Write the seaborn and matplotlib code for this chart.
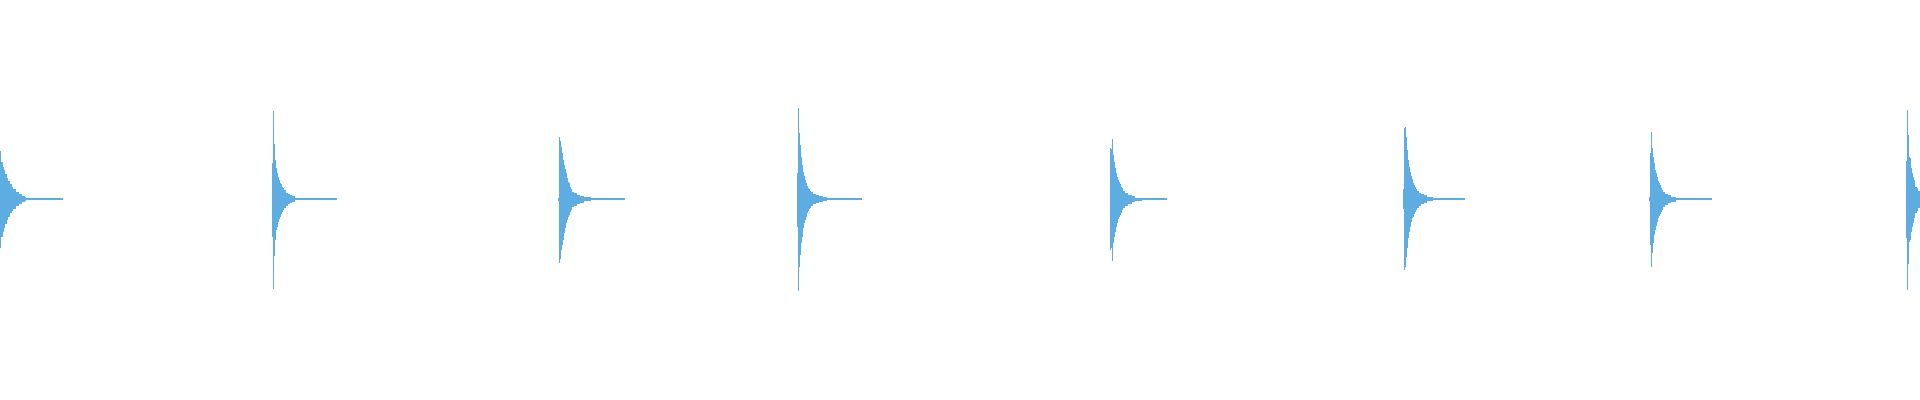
import matplotlib
matplotlib.use("Agg")
import matplotlib.pyplot as plt
import seaborn as sns
import pandas as pd

# -----------------------------
# Waveform data (peak envelope per pixel column, normalised amplitude)
# -----------------------------
burst_starts = [0, 272, 558, 797, 1110, 1403, 1649, 1906]
tail_ends = [63, 337, 625, 862, 1167, 1465, 1712, 1920]

b1_top = [0.48, 0.37, 0.37, 0.32, 0.29, 0.25, 0.25, 0.21, 0.18, 0.18, 0.15, 0.15, 0.12,
          0.10, 0.10, 0.10, 0.07, 0.07, 0.07, 0.05, 0.05, 0.05, 0.03, 0.03, 0.03, 0.02]
b1_bottom = [0.49, 0.38, 0.38, 0.33, 0.29, 0.25, 0.25, 0.21, 0.18, 0.18, 0.14, 0.14, 0.12,
             0.10, 0.10, 0.10, 0.07, 0.07, 0.07, 0.05, 0.05, 0.05, 0.03, 0.03, 0.03, 0.02]

b2_top = [0.36, 0.88, 0.55, 0.39, 0.31, 0.26, 0.22, 0.19, 0.16, 0.15, 0.12, 0.11, 0.09, 0.09,
          0.06, 0.06, 0.05, 0.05, 0.04, 0.04, 0.03, 0.03, 0.03]
b2_bottom = [0.38, 0.90, 0.57, 0.41, 0.31, 0.28, 0.23, 0.20, 0.18, 0.15, 0.13, 0.11, 0.09, 0.09,
             0.07, 0.07, 0.05, 0.05, 0.04, 0.04, 0.03, 0.03, 0.03]

b3_top = [0.01, 0.62, 0.58, 0.52, 0.46, 0.39, 0.34, 0.30, 0.26, 0.21, 0.17, 0.16, 0.12, 0.10,
          0.07, 0.07, 0.06, 0.06, 0.06, 0.04, 0.04, 0.04, 0.03, 0.03, 0.03, 0.03,
          0.02, 0.02, 0.02, 0.02, 0.02, 0.02, 0.02]
b3_bottom = [0.02, 0.64, 0.60, 0.51, 0.46, 0.41, 0.34, 0.29, 0.24, 0.21, 0.18, 0.16, 0.13, 0.11,
             0.08, 0.08, 0.07, 0.07, 0.07, 0.05, 0.05, 0.05, 0.04, 0.04, 0.04, 0.04,
             0.02, 0.02, 0.02, 0.02, 0.02, 0.02, 0.02]

b4_top = [0.26, 0.91, 0.66, 0.54, 0.42, 0.34, 0.27, 0.23, 0.19, 0.16, 0.13, 0.11, 0.10, 0.08,
          0.07, 0.07, 0.05, 0.05, 0.05, 0.04, 0.04, 0.04, 0.03, 0.03, 0.03, 0.03,
          0.02, 0.02, 0.02, 0.02]
b4_bottom = [0.28, 0.92, 0.68, 0.56, 0.44, 0.38, 0.29, 0.24, 0.21, 0.18, 0.14, 0.12, 0.10, 0.09,
             0.07, 0.07, 0.05, 0.05, 0.05, 0.04, 0.04, 0.04, 0.03, 0.03, 0.03, 0.03,
             0.02, 0.02, 0.02, 0.02]

b5_top = [0.51, 0.50, 0.60, 0.44, 0.37, 0.31, 0.26, 0.22, 0.19, 0.17, 0.15, 0.12, 0.11, 0.08,
          0.08, 0.06, 0.06, 0.06, 0.04, 0.04, 0.04, 0.04, 0.03, 0.03, 0.03,
          0.01, 0.01, 0.01, 0.01, 0.01, 0.01, 0.01]
b5_bottom = [0.51, 0.49, 0.62, 0.44, 0.38, 0.33, 0.28, 0.24, 0.20, 0.18, 0.16, 0.14, 0.11, 0.09,
             0.09, 0.07, 0.07, 0.07, 0.05, 0.05, 0.05, 0.05, 0.03, 0.03, 0.03,
             0.02, 0.02, 0.02, 0.02, 0.02, 0.02, 0.02]

b6_top = [0.10, 0.71, 0.72, 0.62, 0.49, 0.39, 0.32, 0.27, 0.23, 0.20, 0.16, 0.14, 0.12, 0.10,
          0.08, 0.08, 0.06, 0.06, 0.05, 0.05, 0.05, 0.04, 0.04, 0.04,
          0.02, 0.02, 0.02, 0.02, 0.02, 0.02]
b6_bottom = [0.10, 0.71, 0.68, 0.58, 0.49, 0.39, 0.33, 0.28, 0.23, 0.19, 0.18, 0.15, 0.13, 0.11,
             0.09, 0.09, 0.07, 0.07, 0.05, 0.05, 0.05, 0.04, 0.04, 0.04,
             0.02, 0.02, 0.02, 0.02, 0.02, 0.02]

b7_top = [0.02, 0.46, 0.67, 0.51, 0.42, 0.36, 0.29, 0.26, 0.22, 0.18, 0.16, 0.14, 0.11, 0.09,
          0.07, 0.07, 0.05, 0.05, 0.05, 0.04, 0.04, 0.04, 0.02, 0.02, 0.02, 0.02, 0.02]
b7_bottom = [0.02, 0.46, 0.68, 0.54, 0.44, 0.36, 0.31, 0.27, 0.23, 0.19, 0.17, 0.15, 0.13, 0.11,
             0.08, 0.08, 0.06, 0.06, 0.06, 0.04, 0.04, 0.04, 0.03, 0.03, 0.03, 0.03, 0.03]

b8_top = [0.38, 0.89, 0.64, 0.42, 0.41, 0.31, 0.26, 0.22, 0.19, 0.12, 0.12, 0.11, 0.08, 0.08]
b8_bottom = [0.39, 0.91, 0.65, 0.43, 0.41, 0.33, 0.28, 0.24, 0.19, 0.14, 0.14, 0.12, 0.09, 0.09]

tail_amp = 0.01
wave_color = "#5dade2"

tops = [b1_top, b2_top, b3_top, b4_top, b5_top, b6_top, b7_top, b8_top]
bottoms = [b1_bottom, b2_bottom, b3_bottom, b4_bottom, b5_bottom, b6_bottom, b7_bottom, b8_bottom]

# -----------------------------
# Tabla de columnas
# -----------------------------
rows = []
for start, top, bottom in zip(burst_starts, tops, bottoms):
    for i, (t, b) in enumerate(zip(top, bottom)):
        rows.append({"x": start + i, "top": t, "bottom": b})
df = pd.DataFrame(rows)

# -----------------------------
# Dibujo
# -----------------------------
sns.set_style("white")

fig = plt.figure(figsize=(19.2, 4), dpi=100)
ax = fig.add_axes([0, 0, 1, 1])

ax.bar(df["x"], df["top"] + df["bottom"], bottom=-df["bottom"], width=1,
       align="edge", color=wave_color, linewidth=0)

# cola fina de cada golpe
for start, top, end in zip(burst_starts, tops, tail_ends):
    body_end = start + len(top)
    if end > body_end:
        ax.fill_between([body_end, end], -tail_amp, tail_amp, color=wave_color, linewidth=0)

ax.set_xlim(0, 1920)
ax.set_ylim(-2.01, 1.99)
ax.axis("off")

fig.savefig("out.png", dpi=100, facecolor="white")
plt.close(fig)
